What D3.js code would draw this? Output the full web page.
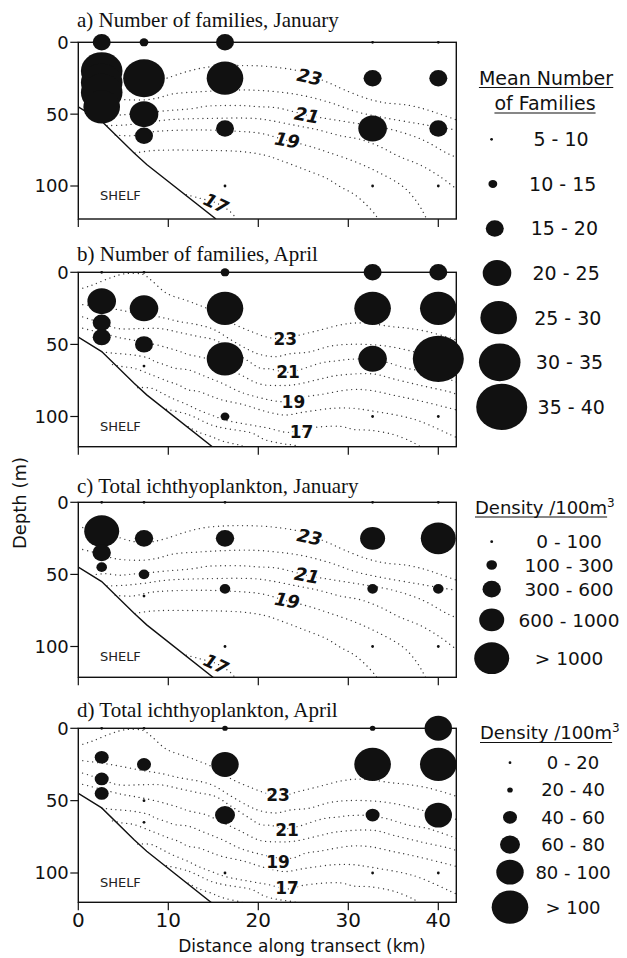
<!DOCTYPE html>
<html><head><meta charset="utf-8">
<script src="https://cdn.jsdelivr.net/npm/d3@7"></script>
<style>body{margin:0;background:#fff}svg{display:block}</style>
</head><body>
<svg id="chart" width="627" height="958"></svg>
<script>
// ---------------- DATA ----------------
const xTicks = [0, 10, 20, 30, 40];
const yTicks = [0, 50, 100];
const stationKm = [2.6, 7.3, 16.3, 32.7, 40];
const shelfKm = [0, 2.6, 6.2, 7.6, 15.3];
const shelfDepth = [45, 55, 77, 85, 123];

const panelTitles = [
  "a) Number of families, January",
  "b) Number of families, April",
  "c) Total ichthyoplankton, January",
  "d) Total ichthyoplankton, April"
];

const familyClasses = ["5 - 10", "10 - 15", "15 - 20", "20 - 25", "25 - 30", "30 - 35", "35 - 40"];
const densJanClasses = ["0 - 100", "100 - 300", "300 - 600", "600 - 1000", "> 1000"];
const densAprClasses = ["0 - 20", "20 - 40", "40 - 60", "60 - 80", "80 - 100", "> 100"];

// samples: [station index, depth (m), class index]
const famJan = [
  [0,0,2],[1,0,1],[2,0,2],[3,0,0],[4,0,0],
  [0,20,5],[0,28,5],[0,35,5],[0,45,4],
  [1,25,5],[1,50,3],[1,65,2],
  [2,25,4],[2,60,2],[2,100,0],
  [3,25,2],[3,60,3],[3,100,0],
  [4,25,2],[4,60,2],[4,100,0]
];
const famApr = [
  [0,0,0],[1,0,0],[2,0,1],[3,0,2],[4,0,2],
  [0,20,3],[0,35,2],[0,45,2],
  [1,25,3],[1,50,2],[1,65,0],
  [2,25,4],[2,60,4],[2,100,1],
  [3,25,4],[3,60,3],[3,100,0],
  [4,25,4],[4,60,6],[4,100,0]
];
const densJan = [
  [0,0,0],[1,0,0],[2,0,0],[3,0,0],[4,0,0],
  [0,20,4],[0,35,2],[0,45,1],
  [1,25,2],[1,50,1],[1,65,0],
  [2,25,2],[2,60,1],[2,100,0],
  [3,25,3],[3,60,1],[3,100,0],
  [4,25,4],[4,60,1],[4,100,0]
];
const densApr = [
  [0,0,0],[1,0,0],[2,0,1],[3,0,1],[4,0,4],
  [0,20,2],[0,35,2],[0,45,2],
  [1,25,2],[1,50,0],[1,65,0],
  [2,25,4],[2,60,3],[2,100,0],
  [3,25,5],[3,60,2],[3,100,0],
  [4,25,5],[4,60,4],[4,100,0]
];

// January isotherms [km, depth]
const janT23 = [[0,17],[2.5,20],[4.3,24],[6,27],[7.2,28],[8.3,27.3],[9.8,25],[12,20.5],[14.1,17.5],[16.5,16.3],[18.5,16.2],[20.4,16.5],[22,17.4],[24.3,19.7],[25.7,23],[27.8,28.1],[29.6,33.2],[32,39],[34,42],[36.5,43.6],[38.5,46.5],[40.2,50],[42,54]];
const janT22 = [[0,32],[2.5,36],[4,39],[5.5,40],[7.5,40],[9,38.5],[10.4,36],[13.5,34.4],[16.3,33.5],[19.1,33.2],[22,34.4],[25,37.1],[28,42],[30.9,48.3],[34,52.5],[37.6,56.4],[40,59],[42,61]];
const janT21 = [[2,50],[3,49.5],[4.6,50.6],[5.6,50],[7.5,49],[9.8,47.6],[12.8,46],[14.1,44.5],[16,44],[18.5,44.1],[20,44.8],[22,45.5],[25.4,50.6],[28.5,54],[31.5,57],[35,61],[38.3,68],[41,77.3],[42,80]];
const janT20 = [[3.2,58],[5.2,57.5],[7.5,56],[9.8,54],[14,53],[19.6,53],[21.5,54.6],[24.3,58],[26.7,61],[29.1,65],[31.3,67.5],[33.5,72.6],[35.7,79.6],[38,85.4],[40.2,93.5],[42,102]];
const janT19 = [[4.1,64.5],[6,65],[8,62.5],[9.8,61.5],[14,61],[18,62],[20.4,63.5],[23,68],[25.5,72],[27.8,76.6],[30.7,83],[33.2,90],[36.1,100.5],[37.5,110],[38.3,118],[38.7,123]];
const janT18 = [[6.3,77],[8,75.5],[10,75],[14,75.2],[18,76],[20.7,78.5],[22.4,82],[24.8,87.7],[27.6,94.7],[29.1,100.5],[30.7,106],[32,113],[33,120],[33.3,123]];
const janT17 = [[12,106],[13.5,108.5],[15.4,112],[16.9,118],[17.6,123]];

// April isotherms [km, depth]
const aprT23 = [[0,12],[1.5,9],[3.5,4],[5.2,1],[7.2,1.5],[8.2,6],[9.8,14.5],[12,19.5],[13.5,23],[15,27],[17,35],[19.4,41.5],[21,45],[23,46],[24.6,43.5],[26.9,40],[29.1,36.5],[30.6,35.2],[32.5,35.5],[34.6,37.5],[36.5,38.7],[38.7,41],[41.3,45.5],[42,47]];
const aprT22 = [[0,22],[2.5,24],[4.5,26],[7,29],[9.3,31.3],[11.1,34],[13.3,36.4],[15,39.5],[17,47],[19,54],[20.2,57],[22,58.5],[23.5,56.5],[25.6,55.3],[28,51.2],[29.8,50],[32,50],[34.3,51.2],[36.5,53.9],[38.3,56.8],[40.5,60],[42,63]];
const aprT21 = [[0,30],[2.5,35],[4.4,39],[7,39],[9.1,39],[11.1,41.5],[13.3,44.5],[15.2,47],[17,54],[19,62],[20.2,66.5],[21.3,67],[23.2,69.3],[24.6,67.5],[27.2,62.5],[28.7,61.4],[30.2,60.3],[32.4,60.3],[34.3,62.5],[36.5,66.6],[38.7,69],[40.2,72],[42,76]];
const aprT20 = [[0,38],[2.5,42],[4.8,45.6],[5.9,46.8],[7,48],[8.7,50.3],[10,52.5],[11.1,54.5],[12.2,57],[14.1,59.6],[16,65],[18,71],[20.2,77.5],[22.4,78.5],[24,78],[26.9,74],[28.7,71.6],[32.8,70.5],[35,73.9],[38,78.4],[41.3,83],[42,84.5]];
const aprT19 = [[2.6,55],[3.7,56],[5.2,56.7],[6.5,57.7],[7.8,59.5],[8.5,61.8],[9.6,64.1],[10.7,66.5],[12.2,67.6],[14.1,72.2],[16,77],[18,83],[20.2,87],[22.2,89.5],[23.9,89.6],[25.2,86.4],[26.9,84.8],[30.2,81.4],[32.4,81.8],[35,85.2],[37.6,88.6],[41.3,94.3],[42,95.5]];
const aprT18 = [[3.8,64],[4.8,65.3],[6.1,66.4],[8.1,71],[10,75.7],[11.1,78],[12.2,81.5],[13.3,82.5],[14.8,86],[15.9,88.4],[18.5,92],[20,95],[21.5,97.5],[23,99],[25,97],[28.3,94.3],[30.6,94.3],[32,95.5],[36.1,100],[38,103.4],[41.3,112.5],[42,114.5]];
const aprT17 = [[6.6,80],[8.1,80.3],[9.3,83.8],[10.4,87.3],[12.2,92],[13.3,95.4],[14.8,99],[16.3,102.4],[19.3,106],[21.1,108],[23.3,111],[25,108.5],[29.1,106.8],[30.6,109],[32.4,109.5],[35,112.5],[37.2,118],[38.5,123]];
const aprT16 = [[9.8,95],[12.2,98.6],[14.8,105.9],[16.3,108.2],[19.3,111.5],[20.7,116],[22.4,118.5],[24,120],[26,123]];
const aprT15 = [[12.2,107],[13.3,110.7],[14.8,114],[16,117],[18,120],[19.5,123]];

// isotherm labels: [value, km, depth]
const janLabels = [[23,25.7,24],[21,25.4,50.6],[19,23.2,68],[17,15.3,112]];
const aprLabelsB = [[23,23,46],[21,23.3,69.2],[19,23.9,89.6],[17,24.8,110.9]];
const aprLabelsD = [[23,22.2,46.1],[21,23.2,70.2],[19,22.2,92.2],[17,23.2,110.6]];

// ---------------- DRAWING ----------------
const sans = "'DejaVu Sans', Verdana, sans-serif";
const serif = "'Liberation Serif', 'Times New Roman', serif";
const ink = "#111";
const svg = d3.select("#chart");

const janIso = [janT23, janT22, janT21, janT20, janT19, janT18, janT17];
const aprIso = [aprT23, aprT22, aprT21, aprT20, aprT19, aprT18, aprT17, aprT16, aprT15];

const famR = [1.4, 4.4, 9, 14.3, 18.3, 20.8, 25.5];
const densJanR = [1.4, 5.3, 9.2, 12.5, 17.5];
const densAprR = [1.4, 2.8, 7, 10, 13.7, 18.3];
const aspect = 1.1; // bubbles slightly wider than tall

const x = d3.scaleLinear().domain([0, 42]).range([78.3, 456.3]);

const panels = [
  {top: 42.3, y100: 186, bottom: 219, title: panelTitles[0], titleY: 27, data: famJan, r: famR, iso: janIso, labels: janLabels, jan: true, ticks: false},
  {top: 272.3, y100: 416.5, bottom: 446.7, title: panelTitles[1], titleY: 260.7, data: famApr, r: famR, iso: aprIso, labels: aprLabelsB, jan: false, ticks: false},
  {top: 502.3, y100: 646.5, bottom: 677.3, title: panelTitles[2], titleY: 493.3, data: densJan, r: densJanR, iso: janIso, labels: janLabels, jan: true, ticks: false},
  {top: 728.3, y100: 873, bottom: 902.3, title: panelTitles[3], titleY: 716.7, data: densApr, r: densAprR, iso: aprIso, labels: aprLabelsD, jan: false, ticks: true}
];

panels.forEach((p, i) => {
  const y = d3.scaleLinear().domain([0, 100]).range([p.top, p.y100]);
  const g = svg.append("g");
  const clipId = "clip" + i;
  svg.append("clipPath").attr("id", clipId).append("rect")
    .attr("x", x(0)).attr("y", p.top).attr("width", x(42) - x(0)).attr("height", p.bottom - p.top);

  g.append("text").attr("x", 77).attr("y", p.titleY).text(p.title)
    .attr("font-family", serif).attr("font-size", 21).attr("fill", ink);

  const inner = g.append("g").attr("clip-path", `url(#${clipId})`);
  const line = d3.line().x(d => x(d[0])).y(d => y(d[1])).curve(d3.curveCatmullRom.alpha(0.5));

  inner.selectAll("path.iso").data(p.iso).enter().append("path")
    .attr("class", "iso").attr("d", line).attr("fill", "none")
    .attr("stroke", "#3a3a3a").attr("stroke-width", 1.35)
    .attr("stroke-dasharray", "0.01 4.8").attr("stroke-linecap", "round");

  const shelfPts = shelfKm.map((k, j) => [k, shelfDepth[j]]);
  inner.append("path").attr("d", d3.line().x(d => x(d[0])).y(d => y(d[1]))(shelfPts))
    .attr("fill", "none").attr("stroke", ink).attr("stroke-width", 1.4);

  const rots = p.jan ? [12, 10, 10, 25] : [0, 0, 0, 0];
  g.selectAll("text.lab").data(p.labels).enter().append("text")
    .attr("class", "lab")
    .attr("transform", (d, j) => `translate(${x(d[1])},${y(d[2])}) rotate(${rots[j]})`)
    .attr("text-anchor", "middle").attr("dy", "0.36em")
    .attr("font-family", sans).attr("font-size", p.jan ? 18 : 17)
    .attr("font-style", p.jan ? "italic" : "normal")
    .attr("font-weight", "bold")
    .attr("fill", ink).attr("stroke", "#fff").attr("stroke-width", 3).attr("paint-order", "stroke")
    .text(d => d[0]);

  g.append("text").attr("x", x(2.4)).attr("y", y(110)).text("SHELF")
    .attr("font-family", sans).attr("font-size", 13).attr("fill", "#222");

  g.append("rect").attr("x", x(0)).attr("y", p.top).attr("width", x(42) - x(0)).attr("height", p.bottom - p.top)
    .attr("fill", "none").attr("stroke", ink).attr("stroke-width", 1.4);

  yTicks.forEach(t => {
    g.append("line").attr("x1", x(0) - 8).attr("x2", x(0)).attr("y1", y(t)).attr("y2", y(t))
      .attr("stroke", ink).attr("stroke-width", 1.2);
    g.append("text").attr("x", x(0) - 9.5).attr("y", y(t)).attr("dy", "0.36em").attr("text-anchor", "end")
      .attr("font-family", sans).attr("font-size", 18).attr("fill", ink).text(t);
  });
  xTicks.forEach(t => {
    g.append("line").attr("x1", x(t)).attr("x2", x(t)).attr("y1", p.bottom).attr("y2", p.bottom + 8)
      .attr("stroke", ink).attr("stroke-width", 1.2);
    if (p.ticks) {
      g.append("text").attr("x", x(t)).attr("y", p.bottom + 25).attr("text-anchor", "middle")
        .attr("font-family", sans).attr("font-size", 20).attr("fill", ink).text(t);
    }
  });

  const sorted = p.data.slice().sort((a, b) => b[2] - a[2]);
  g.selectAll("ellipse.b").data(sorted).enter().append("ellipse")
    .attr("class", "b")
    .attr("cx", d => x(stationKm[d[0]])).attr("cy", d => y(d[1]))
    .attr("rx", d => p.r[d[2]]).attr("ry", d => d[2] === 0 ? p.r[0] : p.r[d[2]] / aspect)
    .attr("fill", ink);
});

svg.append("text").attr("x", 302).attr("y", 952).attr("text-anchor", "middle")
  .attr("font-family", sans).attr("font-size", 17).attr("fill", ink).text("Distance along transect (km)");
svg.append("text").attr("transform", "translate(26,503) rotate(-90)").attr("text-anchor", "middle")
  .attr("font-family", sans).attr("font-size", 18).attr("fill", ink).text("Depth (m)");

// ---------------- LEGENDS ----------------
function underlined(txt, cx, by, size) {
  const t = svg.append("text").attr("x", cx).attr("y", by).attr("text-anchor", "middle")
    .attr("font-family", sans).attr("font-size", size).attr("fill", ink).text(txt);
  const bb = t.node().getBBox();
  svg.append("line").attr("x1", bb.x).attr("x2", bb.x + bb.width).attr("y1", by + 3).attr("y2", by + 3)
    .attr("stroke", ink).attr("stroke-width", 1.1);
  return t;
}
function densityTitle(x0, by) {
  const t = svg.append("text").attr("x", x0).attr("y", by)
    .attr("font-family", sans).attr("font-size", 18).attr("fill", ink);
  t.append("tspan").text("Density /100m");
  const w = t.node().getBBox().width;
  svg.append("line").attr("x1", x0).attr("x2", x0 + w).attr("y1", by + 3.5).attr("y2", by + 3.5)
    .attr("stroke", ink).attr("stroke-width", 1.1);
  t.append("tspan").attr("dy", -7).attr("font-size", 12).text("3");
}
function stackY(y0, rys, minStep, gap) {
  const out = [y0];
  for (let i = 1; i < rys.length; i++) out.push(out[i - 1] + Math.max(minStep, rys[i - 1] + rys[i] + gap));
  return out;
}

underlined("Mean Number", 546, 84.5, 19);
underlined("of Families", 545, 110, 19);
familyClasses.forEach((c, i) => {
  const cy = 139.3 + 44.6 * i;
  const r = famR[i];
  svg.append("ellipse").attr("cx", 491 + r * 0.42).attr("cy", cy).attr("rx", r).attr("ry", i === 0 ? r : r / aspect).attr("fill", ink);
  svg.append("text").attr("x", 561 + 1.7 * i).attr("y", cy).attr("dy", "0.36em").attr("text-anchor", "middle")
    .attr("font-family", sans).attr("font-size", 19).attr("fill", ink).text(c);
});

densityTitle(475, 513.5);
const cYs = stackY(541.7, densJanR.map(r => r / aspect), 23.3, 11);
densJanClasses.forEach((c, i) => {
  const r = densJanR[i];
  svg.append("ellipse").attr("cx", 491.7).attr("cy", cYs[i]).attr("rx", r).attr("ry", i === 0 ? r : r / aspect).attr("fill", ink);
  svg.append("text").attr("x", 569).attr("y", cYs[i]).attr("dy", "0.36em").attr("text-anchor", "middle")
    .attr("font-family", sans).attr("font-size", 18.5).attr("fill", ink).text(c);
});

densityTitle(480, 739);
const dYs = stackY(762.7, densAprR.map(r => r / aspect), 27.3, 6);
densAprClasses.forEach((c, i) => {
  const r = densAprR[i];
  svg.append("ellipse").attr("cx", 510).attr("cy", dYs[i]).attr("rx", r).attr("ry", i === 0 ? r : r / aspect).attr("fill", ink);
  svg.append("text").attr("x", 573).attr("y", dYs[i]).attr("dy", "0.36em").attr("text-anchor", "middle")
    .attr("font-family", sans).attr("font-size", 18).attr("fill", ink).text(c);
});
</script>
</body></html>
